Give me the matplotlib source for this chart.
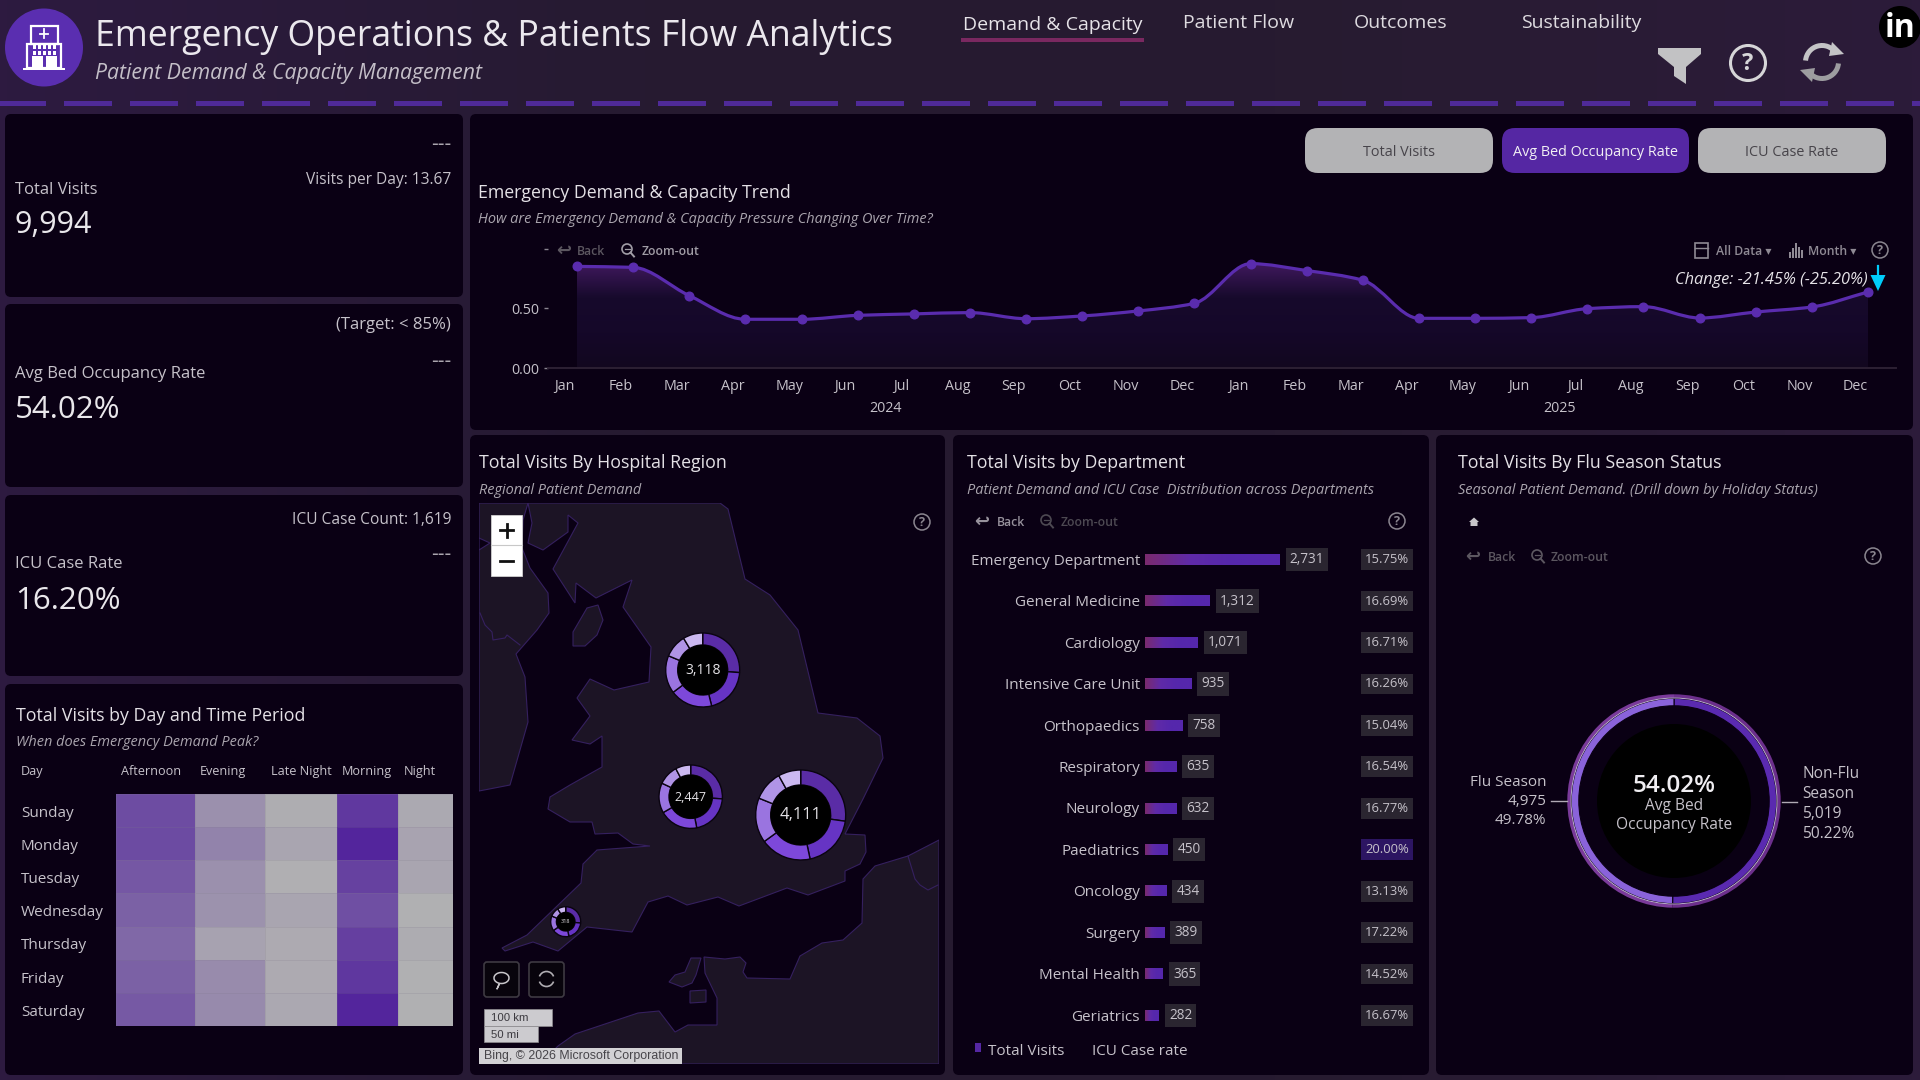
import numpy as np
from matplotlib import pyplot as plt
from matplotlib.colors import LinearSegmentedColormap, Normalize
from matplotlib.patches import Arc, Circle, FancyBboxPatch, Polygon, Rectangle
from matplotlib.path import Path
from matplotlib.patches import PathPatch

plt.rcParams['font.family'] = ['Open Sans', 'DejaVu Sans']

# trend, average bed occupancy per month
months = ['Jan', 'Feb', 'Mar', 'Apr', 'May', 'Jun', 'Jul', 'Aug', 'Sep', 'Oct', 'Nov', 'Dec']
occupancy_2024 = [0.851, 0.843, 0.606, 0.408, 0.408, 0.441, 0.453, 0.464, 0.413, 0.436, 0.478, 0.542]
occupancy_2025 = [0.874, 0.816, 0.735, 0.416, 0.416, 0.422, 0.497, 0.514, 0.419, 0.469, 0.511, 0.637]

# visits by day and time period
days = ['Sunday', 'Monday', 'Tuesday', 'Wednesday', 'Thursday', 'Friday', 'Saturday']
periods = ['Afternoon', 'Evening', 'Late Night', 'Morning', 'Night']
afternoon = [471, 476, 430, 394, 368, 394, 424]
evening = [224, 270, 224, 213, 157, 239, 244]
late_night = [115, 144, 110, 144, 126, 126, 136]
morning = [543, 615, 512, 460, 517, 548, 615]
night = [131, 151, 144, 105, 121, 105, 105]

# visits by region, split into six slices per donut
region_north = [814, 624, 580, 516, 315, 269]
region_midlands = [639, 510, 483, 374, 251, 190]
region_east = [1119, 799, 754, 662, 445, 332]
region_southwest = [84, 64, 59, 51, 32, 28]

# departments
departments = ['Emergency Department', 'General Medicine', 'Cardiology', 'Intensive Care Unit',
               'Orthopaedics', 'Respiratory', 'Neurology', 'Paediatrics', 'Oncology', 'Surgery',
               'Mental Health', 'Geriatrics']
dept_visits = [2731, 1312, 1071, 935, 758, 635, 632, 450, 434, 389, 365, 282]
dept_icu_rate = [15.75, 16.69, 16.71, 16.26, 15.04, 16.54, 16.77, 20.00, 13.13, 17.22, 14.52, 16.67]

# flu season split
flu_labels = ['Non-Flu Season', 'Flu Season']
flu_visits = [5019, 4975]
flu_shares = [50.22, 49.78]

PANEL = '#0a0014'
PAGE = '#271a33'
PURPLE = '#5527a3'
TITLE = '#e4e1e6'
SUB = '#aaa5ae'
LABEL = '#c6c2ca'
HEAD = 12.8
NOTE = 10.45

fig = plt.figure(figsize=(19.2, 10.8), dpi=100, facecolor=PAGE)


def px_axes(x0, y0, x1, y1, zorder=2):
    ax = fig.add_axes([x0 / 1920, 1 - y1 / 1080, (x1 - x0) / 1920, (y1 - y0) / 1080], zorder=zorder)
    ax.set_facecolor('none')
    return ax


# the font's box sits a little high, so push text down in proportion to its size
def txt(x, y, s, size=10, color=LABEL, ha='left', va='center', **kw):
    y = y + size * 0.14 + 1.2
    return fig.text(x / 1920, 1 - y / 1080, s, fontsize=size, color=color, ha=ha, va=va, zorder=20, **kw)


bg = px_axes(0, 0, 1920, 1080, zorder=0)
fg = px_axes(0, 0, 1920, 1080, zorder=10)
for a in (bg, fg):
    a.set_xlim(0, 1920)
    a.set_ylim(1080, 0)
    a.axis('off')

# page background, slightly more purple at both ends
page_cmap = LinearSegmentedColormap.from_list('page', ['#2d1a40', '#261a31', '#271b30', '#2c1b3a'])
bg.imshow(np.linspace(0, 1, 256).reshape(1, -1), extent=(0, 1920, 1080, 0), aspect='auto', cmap=page_cmap, zorder=0)
bg.set_xlim(0, 1920)
bg.set_ylim(1080, 0)


def rounded(ax, x0, y0, x1, y1, color, r=6, **kw):
    p = FancyBboxPatch((x0, y0), x1 - x0, y1 - y0, boxstyle=f'round,pad=0,rounding_size={r}',
                       facecolor=color, edgecolor=kw.pop('edgecolor', 'none'), **kw)
    ax.add_patch(p)
    return p


panels = [(5, 114, 463, 297), (5, 304, 463, 487), (5, 495, 463, 676), (5, 684, 463, 1075),
          (470, 114, 1913, 430), (470, 435, 945, 1075), (953, 435, 1429, 1075), (1436, 435, 1913, 1075)]
for x0, y0, x1, y1 in panels:
    rounded(bg, x0, y0, x1, y1, PANEL, zorder=1)

# dashed separator under the header
for x in range(-2, 1920, 66):
    bg.add_patch(Rectangle((x, 100.5), 48, 5, facecolor='#4f2a98', zorder=1))


# small icon helpers
def help_icon(x, y, r=8, color='#8b8690'):
    fg.add_patch(Circle((x, y), r, fill=False, edgecolor=color, lw=1.1))
    txt(x, y - 2, '?', size=r * 1.15, color=color, ha='center', weight='bold')


def magnifier(x, y, color):
    fg.add_patch(Circle((x - 1, y - 1), 5, fill=False, edgecolor=color, lw=1.2))
    fg.plot([x + 2.5, x + 6], [y + 2.5, y + 6.5], color=color, lw=1.4)
    fg.plot([x - 3.5, x + 1.5], [y - 1, y - 1], color=color, lw=0.9)


def back_zoom(xa, xb, xm, xz, y, back_color, zoom_color):
    txt(xa, y - 2, '↩', size=13, color=back_color, ha='center', family='DejaVu Sans', weight='bold')
    txt(xb, y - 1, 'Back', size=8.8, color=back_color, weight='semibold')
    magnifier(xm, y, zoom_color)
    txt(xz, y - 1, 'Zoom-out', size=8.8, color=zoom_color, weight='semibold')


# header
fg.add_patch(Circle((44, 47.5), 39, facecolor='#5a2eb0', edgecolor='none'))
fg.add_patch(Rectangle((30.5, 26), 27, 18, facecolor='none', edgecolor='white', lw=1.6))
fg.add_patch(Rectangle((27, 44), 34, 24, facecolor='none', edgecolor='white', lw=1.6))
fg.add_patch(Rectangle((23, 67.5), 42, 2.5, facecolor='white', edgecolor='none'))
for wx in (33, 38, 43, 48, 53):
    fg.add_patch(Rectangle((wx, 44), 3, 5, facecolor='white', edgecolor='none'))
    fg.add_patch(Rectangle((wx, 50.5), 3, 4, facecolor='white', edgecolor='none'))
fg.add_patch(Rectangle((31.5, 56), 11, 11, facecolor='white', edgecolor='none'))
fg.add_patch(Rectangle((45.5, 56), 11, 11, facecolor='white', edgecolor='none'))
fg.plot([44, 44], [29, 38], color='white', lw=1.3)
fg.plot([40, 48], [33.5, 33.5], color='white', lw=1.3)

txt(95, 32, 'Emergency Operations & Patients Flow Analytics', size=25.7, color='#ebe8ee')
txt(95, 70, 'Patient Demand & Capacity Management', size=15.3, color='#c4bfc8', style='italic')

txt(963, 22, 'Demand & Capacity', size=14, color='#e6e3e8')
txt(1183, 19.5, 'Patient Flow', size=14, color='#dedbe0')
txt(1354, 19.5, 'Outcomes', size=14, color='#dedbe0')
txt(1521, 19.5, 'Sustainability', size=14, color='#dedbe0')
fg.add_patch(Rectangle((961, 38), 183, 4, facecolor='#7a2860', edgecolor='none'))

# filter, help and refresh buttons, linkedin badge
fg.add_patch(Polygon([(1658, 48), (1701, 48), (1701, 54), (1686, 67), (1686, 84), (1674, 76), (1674, 67), (1658, 54)],
                     facecolor='#c2c2c4', edgecolor='none'))
fg.add_patch(Circle((1748, 63), 17.5, fill=False, edgecolor='#d6d6d8', lw=2.2))
txt(1748, 60, '?', size=17, color='#d6d6d8', ha='center', weight='bold')
fg.add_patch(Arc((1822, 62), 33, 33, theta1=185, theta2=325, edgecolor='#c4c4c6', lw=3.6))
fg.add_patch(Arc((1822, 62), 33, 33, theta1=5, theta2=145, edgecolor='#9d9da0', lw=3.6))
fg.add_patch(Polygon([(1832, 42), (1844, 54), (1829, 56)], facecolor='#c4c4c6', edgecolor='none'))
fg.add_patch(Polygon([(1812, 82), (1800, 70), (1815, 68)], facecolor='#9d9da0', edgecolor='none'))
fg.add_patch(Circle((1900, 27), 21, facecolor='black', edgecolor='none'))
txt(1900, 24, 'in', size=23, color='white', ha='center', weight='bold')

# KPI cards
txt(451, 141, '---', size=15, color=SUB, ha='right')
txt(451, 177, 'Visits per Day: 13.67', size=11.2, color=LABEL, ha='right')
txt(15, 187, 'Total Visits', size=12, color=LABEL)
txt(15, 221, '9,994', size=22, color='#e9e7eb')

txt(451, 322, '(Target: < 85%)', size=12, color=LABEL, ha='right')
txt(451, 358, '---', size=15, color=SUB, ha='right')
txt(15, 371, 'Avg Bed Occupancy Rate', size=12, color=LABEL)
txt(15, 406, '54.02%', size=22.5, color='#e9e7eb')

txt(451, 517, 'ICU Case Count: 1,619', size=11.2, color=LABEL, ha='right')
txt(451, 551, '---', size=15, color=SUB, ha='right')
txt(15, 561, 'ICU Case Rate', size=12, color=LABEL)
txt(15, 597, '16.20%', size=22.5, color='#e9e7eb')

# trend card
txt(478, 190.5, 'Emergency Demand & Capacity Trend', size=HEAD, color=TITLE)
txt(478, 217, 'How are Emergency Demand & Capacity Pressure Changing Over Time?', size=NOTE, color=SUB, style='italic')

for x0, x1, face, tc, label in [(1305, 1493, '#b3b3b5', '#47444a', 'Total Visits'),
                                (1502, 1689, PURPLE, '#f2f0f4', 'Avg Bed Occupancy Rate'),
                                (1698, 1886, '#b3b3b5', '#47444a', 'ICU Case Rate')]:
    rounded(fg, x0, 128, x1, 173, face, r=13)
    txt((x0 + x1) / 2, 149.5, label, size=10.4, color=tc, ha='center')

back_zoom(564, 577, 628, 642, 250, '#5c5760', '#a19da6')
txt(1716, 249, 'All Data ▾', size=8.8, color='#8f8a94', weight='semibold')
txt(1808, 249, 'Month ▾', size=8.8, color='#8f8a94', weight='semibold')
fg.add_patch(Rectangle((1695, 243), 13, 15, fill=False, edgecolor='#8f8a94', lw=1.2))
fg.plot([1695, 1708], [248, 248], color='#8f8a94', lw=1)
for i, h in enumerate((6, 10, 15, 11, 8)):
    fg.add_patch(Rectangle((1789 + i * 3, 258 - h), 2, h, facecolor='#8f8a94', edgecolor='none'))
help_icon(1880, 250)
txt(1868, 277, 'Change: -21.45% (-25.20%)', size=11.75, color='#e6e3e8', ha='right', style='italic')

occupancy = occupancy_2024 + occupancy_2025
xs = np.arange(len(occupancy), dtype=float)
ys = np.array(occupancy)


# monotone cubic through the monthly points, as one bezier path
def smooth_path(x, y):
    d = np.diff(y) / np.diff(x)
    m = np.zeros_like(y)
    m[0], m[-1] = d[0], d[-1]
    for k in range(1, len(y) - 1):
        if d[k - 1] * d[k] > 0:
            m[k] = 2 * d[k - 1] * d[k] / (d[k - 1] + d[k])
    verts = [(x[0], y[0])]
    codes = [Path.MOVETO]
    for k in range(len(x) - 1):
        h = (x[k + 1] - x[k]) / 3
        verts += [(x[k] + h, y[k] + m[k] * h), (x[k + 1] - h, y[k + 1] - m[k + 1] * h), (x[k + 1], y[k + 1])]
        codes += [Path.CURVE4] * 3
    return verts, codes


trend = px_axes(548, 245, 1896, 368)
px_per_month = (1868 - 577) / 23
x_lim = (-(577 - 548) / px_per_month, (1896 - 577) / px_per_month)
y_lim = (0, 123 / 119.4)

verts, codes = smooth_path(xs, ys)
area = Path(verts + [(xs[-1], 0), (xs[0], 0), (xs[0], ys[0])],
            codes + [Path.LINETO, Path.LINETO, Path.CLOSEPOLY])
fill_cmap = LinearSegmentedColormap.from_list('fill', ['#12071f', '#150829', '#170a2c', '#41195f'])
grad = np.linspace(0, 1, 256).reshape(-1, 1)
img = trend.imshow(grad, extent=(xs[0], xs[-1], 0, 0.88), origin='lower', aspect='auto', cmap=fill_cmap,
                   norm=Normalize(0, 1))
clip = PathPatch(area, transform=trend.transData, facecolor='none', edgecolor='none')
trend.add_patch(clip)
img.set_clip_path(clip)

trend.add_patch(PathPatch(Path(verts, codes), fill=False, edgecolor='#5a2cae', lw=2.3))
trend.plot(xs, ys, linestyle='none', marker='o', ms=6.2, color='#5a2cae', clip_on=False)
trend.set_xlim(*x_lim)
trend.set_ylim(*y_lim)
trend.set_yticks([0, 0.5, 1.0], ['0.00', '0.50', ''])
trend.set_xticks(xs - 0.22, months * 2)
trend.tick_params(axis='y', length=3, width=1, color='#8a8590', labelcolor=LABEL, labelsize=10.3, pad=3.5)
trend.tick_params(axis='x', length=0, labelcolor=LABEL, labelsize=10.3, pad=8)
for side in ('top', 'right', 'left'):
    trend.spines[side].set_visible(False)
trend.spines['bottom'].set_color('#2c2033')
trend.spines['bottom'].set_linewidth(1.4)
txt(886, 406, '2024', size=10.3, ha='center')
txt(1560, 406, '2025', size=10.3, ha='center')

# change arrow at the last point
fg.plot([1878, 1878], [266, 278], color='#00cdfb', lw=1.6)
fg.add_patch(Polygon([(1870.5, 275), (1885.5, 275), (1878, 291)], facecolor='#00cdfb', edgecolor='none'))

# day / period heatmap
txt(16, 713.5, 'Total Visits by Day and Time Period', size=HEAD, color=TITLE)
txt(16, 740, 'When does Emergency Demand Peak?', size=NOTE, color=SUB, style='italic')
txt(21, 769.5, 'Day', size=9.1, color=LABEL)
for cx, name in zip((151, 223, 301, 367, 420), periods):
    txt(cx, 769.5, name, size=9.1, color=LABEL, ha='center')

heat = px_axes(116, 794, 453, 1026)
heat_cmap = LinearSegmentedColormap.from_list('heat', ['#b1b1b2', '#53259c'])
col_edges = [0, 79, 149, 221, 282, 337]
heat_values = np.array([afternoon, evening, late_night, morning, night]).T
heat.pcolormesh(col_edges, np.arange(8), heat_values, cmap=heat_cmap, norm=Normalize(100, 615),
                edgecolors=(0.5, 0.48, 0.55, 0.2), linewidth=0.5)
heat.set_ylim(7, 0)
heat.axis('off')
for cy, name in zip((811, 844, 877, 910, 943, 977, 1010), days):
    txt(21, cy, name, size=11, color=LABEL)

# map card, coastlines in screen coordinates
txt(479, 460.5, 'Total Visits By Hospital Region', size=HEAD, color=TITLE)
txt(479, 487.5, 'Regional Patient Demand', size=NOTE, color=SUB, style='italic')

great_britain = [(528, 503), (532, 523), (528, 543), (543, 550), (568, 532), (568, 515), (578, 523), (553, 569),
                 (575, 603), (576, 583), (596, 598), (632, 580), (623, 607), (651, 647), (649, 682), (614, 690),
                 (590, 679), (577, 698), (590, 716), (572, 740), (590, 744), (602, 736), (602, 767), (570, 785),
                 (550, 797), (548, 809), (570, 822), (592, 822), (595, 834), (618, 833), (633, 844), (650, 846),
                 (597, 850), (583, 864), (581, 883), (527, 935), (502, 948), (505, 951), (533, 942), (558, 951),
                 (587, 927), (632, 932), (648, 902), (668, 896), (687, 905), (718, 897), (739, 906), (787, 888),
                 (808, 895), (845, 881), (845, 871), (860, 864), (866, 852), (865, 835), (845, 834), (863, 799),
                 (883, 758), (880, 736), (857, 718), (818, 713), (798, 630), (770, 595), (745, 579), (728, 509),
                 (720, 503)]
ireland = [(479, 503), (528, 503), (523, 520), (522, 548), (530, 568), (548, 593), (549, 613), (537, 630),
           (516, 654), (525, 677), (528, 722), (510, 785), (479, 791)]
isle_of_man = [(573, 646), (573, 632), (587, 608), (598, 605), (603, 620), (597, 635), (585, 646)]
france = [(939, 840), (908, 856), (875, 866), (863, 879), (862, 923), (843, 940), (822, 943), (800, 956),
          (790, 979), (747, 978), (743, 972), (746, 963), (740, 957), (725, 959), (704, 957), (705, 973),
          (717, 998), (717, 1025), (688, 1025), (675, 1032), (659, 1011), (638, 1013), (575, 1034), (558, 1046),
          (540, 1064), (939, 1064)]
jersey = [(669, 982), (675, 975), (685, 972), (691, 958), (701, 958), (696, 975), (692, 983), (682, 987)]
sark = [(690, 991), (706, 990), (706, 1002), (690, 1003)]
lough = [(479, 538), (490, 543), (479, 550)]
ni_border = [(480, 613), (485, 625), (492, 632), (493, 640), (505, 638), (507, 635), (520, 645)]
be_border = [(908, 856), (915, 879), (920, 885), (928, 890), (938, 885)]

geo = px_axes(479, 503, 939, 1064)
geo.set_xlim(479, 939)
geo.set_ylim(1064, 503)
geo.axis('off')
for shape in (great_britain, ireland, isle_of_man, france, jersey, sark):
    geo.add_patch(Polygon(shape, facecolor='#1c1425', edgecolor='#35205f', lw=0.8))
geo.add_patch(Polygon(lough, facecolor=PANEL, edgecolor='#35205f', lw=0.8))
for border in (ni_border, be_border):
    geo.plot(*zip(*border), color='#35205f', lw=0.8)

slice_colors = ['#5a2ca6', '#6634c4', '#7d48da', '#9a74e0', '#b094e6', '#cbb8f0']


def region_donut(cx, cy, outer, inner, values, size):
    ax = px_axes(cx - outer - 1, cy - outer - 1, cx + outer + 1, cy + outer + 1, zorder=3)
    ax.pie(values, colors=slice_colors, startangle=90, counterclock=False, radius=outer / (outer + 1),
           wedgeprops=dict(width=(outer - inner) / (outer + 1), edgecolor='#0a0410', linewidth=1.0))
    ax.add_patch(Circle((0, 0), inner / (outer + 1), facecolor='black', edgecolor='none'))
    ax.set_xlim(-1, 1)
    ax.set_ylim(-1, 1)
    txt(cx, cy - size * 0.1 - 1.2, f'{sum(values):,}', size=size, color='#e4e2e6', ha='center')


region_donut(702.7, 670, 37, 25, region_north, 10)
region_donut(690.7, 796.7, 31.7, 21.7, region_midlands, 9)
region_donut(800.7, 815, 45, 30, region_east, 12)
region_donut(565.7, 921.7, 15, 9.3, region_southwest, 4)

# map controls
fg.add_patch(Rectangle((491, 515), 31, 61, facecolor='white', edgecolor='#d0d0d0', lw=0.6))
fg.plot([491, 522], [545, 545], color='#c8c8c8', lw=0.8)
fg.plot([500, 513], [530, 530], color='#101010', lw=2)
fg.plot([506.5, 506.5], [523.5, 536.5], color='#101010', lw=2)
fg.plot([500, 513], [561, 561], color='#101010', lw=2)
help_icon(922, 522)
for x0 in (484, 529):
    rounded(fg, x0, 962, x0 + 35, 997, '#08040c', r=3, edgecolor='#3e3a42', lw=1.2)
fg.add_patch(Arc((501.5, 978), 15, 11, theta1=0, theta2=360, edgecolor='#c8c6ca', lw=1.1))
fg.plot([499, 497, 499], [984, 989, 985], color='#c8c6ca', lw=1)
fg.add_patch(Arc((546.5, 979), 15, 15, theta1=200, theta2=340, edgecolor='#b0aeb2', lw=1.2))
fg.add_patch(Arc((546.5, 979), 15, 15, theta1=20, theta2=160, edgecolor='#b0aeb2', lw=1.2))
fg.add_patch(Rectangle((484, 1009), 68, 17, facecolor='#cccbcf', edgecolor='#8e8c90', lw=0.5))
fg.add_patch(Rectangle((484, 1026), 54, 16, facecolor='#cccbcf', edgecolor='#8e8c90', lw=0.5))
fg.add_patch(Rectangle((479, 1048), 203, 16, facecolor='#d2d1d4', edgecolor='none'))
txt(491, 1016, '100 km', size=8.2, color='#3c3a40', family='Liberation Sans')
txt(491, 1032.5, '50 mi', size=8.2, color='#3c3a40', family='Liberation Sans')
txt(484, 1054, 'Bing, © 2026 Microsoft Corporation', size=8.95, color='#47454a', family='Liberation Sans')

# department bars
txt(967, 460.5, 'Total Visits by Department', size=HEAD, color=TITLE)
txt(967, 487.5, 'Patient Demand and ICU Case  Distribution across Departments', size=NOTE, color=SUB, style='italic')
back_zoom(982, 997, 1047, 1061, 521, '#97929c', '#4d4952')
help_icon(1397, 521)

dept = px_axes(1144.7, 538.9, 1409, 1036.2)
bar_cmap = LinearSegmentedColormap.from_list('bar', ['#7a2b6e', '#5f2aa8', '#5527ac', '#5527ac'])
bar_grad = np.linspace(0, 1, 128).reshape(1, -1)
for i, (name, v, rate) in enumerate(zip(departments, dept_visits, dept_icu_rate)):
    dept.imshow(bar_grad, extent=(0, v, i + 0.128, i - 0.128), aspect='auto', cmap=bar_cmap)
    dept.annotate(f'{v:,}', xy=(v, i), xytext=(7.5, 0), textcoords='offset points', fontsize=9.8, color=LABEL,
                  va='center', ha='left', annotation_clip=False,
                  bbox=dict(boxstyle='square,pad=0.3', facecolor='#2a2530', edgecolor='none'))
    box = '#2c1562' if rate >= 20 else '#2a2530'
    dept.text(1.0, i, f'{rate:.2f}%', transform=dept.get_yaxis_transform(), fontsize=9.4, color=LABEL,
              va='center', ha='right', clip_on=False,
              bbox=dict(boxstyle='square,pad=0.3', facecolor=box, edgecolor='none'))
    txt(1140, 558.5 + i * 41.45, name, size=11, color=LABEL, ha='right')
dept.set_xlim(0, (1409 - 1144.7) / (134.6 / 2731))
dept.set_ylim(11.5, -0.5)
dept.axis('off')

fg.add_patch(Rectangle((975, 1043), 5.5, 9, facecolor=PURPLE, edgecolor='none'))
txt(988, 1049, 'Total Visits', size=11, color=LABEL)
txt(1092, 1049, 'ICU Case rate', size=11, color=LABEL)

# flu season donut
txt(1458, 460.5, 'Total Visits By Flu Season Status', size=HEAD, color=TITLE)
txt(1458, 487.5, 'Seasonal Patient Demand. (Drill down by Holiday Status)', size=NOTE, color=SUB, style='italic')
fg.add_patch(Polygon([(1469, 522), (1474, 517.5), (1479, 522), (1477.5, 522), (1477.5, 526), (1470.5, 526), (1470.5, 522)],
                     facecolor='#c8c6ca', edgecolor='none'))
back_zoom(1473, 1488, 1538, 1551, 556, '#5c5760', '#5c5760')
help_icon(1873, 556)

R = 106.7
flu = px_axes(1674 - R, 801 - R, 1674 + R, 801 + R, zorder=3)
flu.pie(flu_visits, colors=['#6c2f8c', '#7a3a9a'], startangle=90, counterclock=False, radius=1.0,
        wedgeprops=dict(width=4 / R, edgecolor='none'))
flu.pie(flu_visits, colors=['#5a2ab0', '#8a63da'], startangle=90, counterclock=False, radius=102.7 / R,
        wedgeprops=dict(width=7.5 / R, edgecolor='#0a0014', linewidth=0.8))
flu.add_patch(Circle((0, 0), 103 / R, fill=False, edgecolor='#cfc2e0', lw=0.6))
flu.add_patch(Circle((0, 0), 77 / R, facecolor='black', edgecolor='none'))
flu.set_xlim(-1, 1)
flu.set_ylim(-1, 1)

txt(1674, 782.5, '54.02%', size=17.5, color='#f0eef2', ha='center', weight='semibold')
txt(1674, 803, 'Avg Bed', size=11.2, color=LABEL, ha='center')
txt(1674, 822, 'Occupancy Rate', size=11.2, color=LABEL, ha='center')

fg.plot([1551, 1567], [801, 801], color='#b0aab5', lw=1)
fg.plot([1782, 1797], [802, 802], color='#b0aab5', lw=1)
txt(1546, 780, 'Flu Season', size=11, ha='right')
txt(1546, 799, f'{flu_visits[1]:,}', size=11, ha='right')
txt(1546, 818, f'{flu_shares[1]:.2f}%', size=11, ha='right')
txt(1802, 771, 'Non-Flu', size=11.2)
txt(1802, 791, 'Season', size=11.2)
txt(1802, 811, f'{flu_visits[0]:,}', size=11.2)
txt(1802, 831, f'{flu_shares[0]:.2f}%', size=11.2)

fig.savefig('out.png', dpi=100, facecolor=fig.get_facecolor())
